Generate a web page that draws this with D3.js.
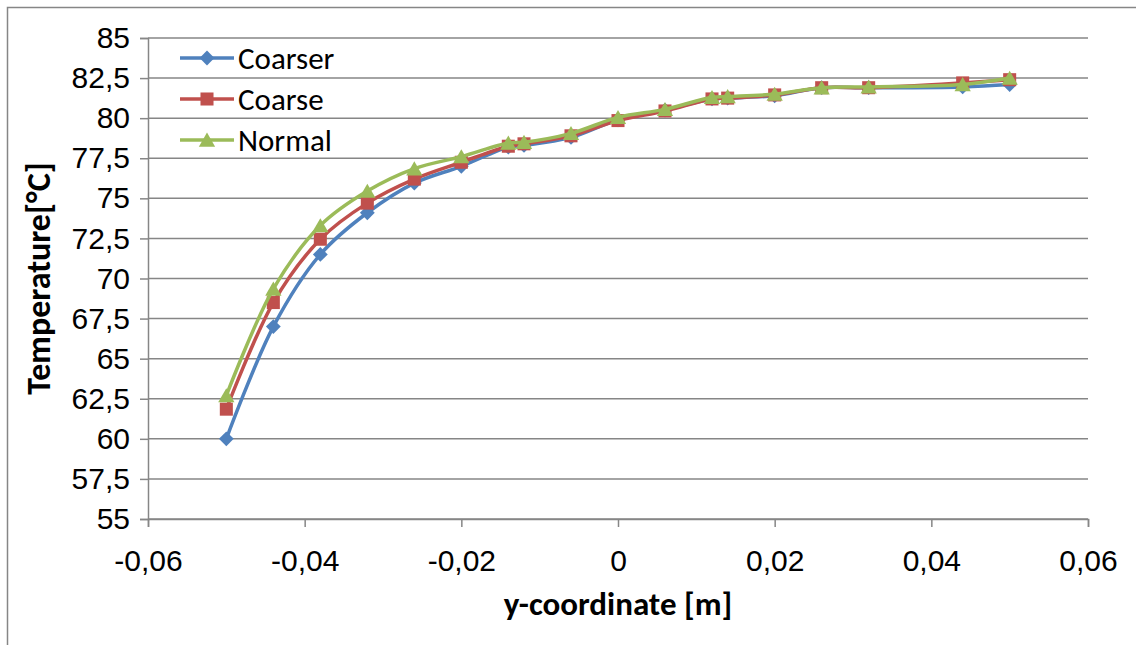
<!DOCTYPE html>
<html>
<head>
<meta charset="utf-8">
<script src="https://cdn.jsdelivr.net/npm/d3@7"></script>
<style>
  body { margin: 0; background: #fff; }
  svg { font-family: Carlito, Lato, "Open Sans", sans-serif; }
</style>
</head>
<body>
<svg width="1136" height="645"></svg>
<script>
var svg = d3.select("svg"),
    width = +svg.attr("width"),
    height = +svg.attr("height");

// y-coordinate [m]
var positions = [-0.05, -0.044, -0.038, -0.032, -0.026, -0.02, -0.014, -0.012, -0.006,
                 0, 0.006, 0.012, 0.014, 0.02, 0.026, 0.032, 0.044, 0.05];

var coarser = [60.0, 67.0, 71.5, 74.1, 75.95, 77.0, 78.2, 78.3, 78.8,
               79.9, 80.5, 81.2, 81.25, 81.4, 81.9, 81.9, 81.95, 82.1];
var coarse  = [61.85, 68.5, 72.45, 74.7, 76.2, 77.25, 78.25, 78.4, 78.9,
               79.85, 80.45, 81.2, 81.25, 81.45, 81.9, 81.9, 82.2, 82.4];
var normal  = [62.7, 69.35, 73.3, 75.45, 76.85, 77.6, 78.45, 78.5, 79.05,
               80.05, 80.55, 81.3, 81.35, 81.5, 81.9, 81.95, 82.1, 82.5];

var seriesNames = ["Coarser", "Coarse", "Normal"];
var xTicks = [-0.06, -0.04, -0.02, 0, 0.02, 0.04, 0.06];
var yTicks = d3.range(55, 85.01, 2.5);

var colors = ["#4F81BD", "#C0504D", "#9BBB59"];
var symbols = [d3.symbolSquare, d3.symbolSquare, d3.symbolTriangle];
var symbolSizes = [110, 170, 115];
var symbolRotate = [45, 0, 0];
var symbolShift = [0, 0, 2];

var series = [coarser, coarse, normal].map(function(vals, i) {
  return {
    name: seriesNames[i],
    values: vals.map(function(v, j) { return { x: positions[j], y: v }; })
  };
});

var margin = { left: 148, right: width - 1088, top: 38, bottom: height - 519 };

var x = d3.scaleLinear().domain([-0.06, 0.06]).range([margin.left, width - margin.right]);
var y = d3.scaleLinear().domain([55, 85]).range([height - margin.bottom, margin.top]);

var fmt = function(d) { return String(+d.toFixed(3)).replace(".", ","); };

// outer frame
svg.append("path")
    .attr("d", "M7.5," + height + "V7.5H" + width)
    .attr("fill", "none")
    .attr("stroke", "#868686")
    .attr("stroke-width", 1.5);

// gridlines
svg.append("g")
    .selectAll("line")
    .data(yTicks)
    .enter().append("line")
      .attr("x1", x(-0.06))
      .attr("x2", x(0.06))
      .attr("y1", function(d) { return y(d); })
      .attr("y2", function(d) { return y(d); })
      .attr("stroke", "#868686")
      .attr("stroke-width", 1.5);

// axes
var yAxis = svg.append("g")
    .attr("transform", "translate(" + x(-0.06) + ",0)")
    .call(d3.axisLeft(y).tickValues(yTicks).tickSize(8).tickPadding(10).tickFormat(fmt));

var xAxis = svg.append("g")
    .attr("transform", "translate(0," + y(55) + ")")
    .call(d3.axisBottom(x).tickValues(xTicks).tickSize(8).tickPadding(23).tickFormat(fmt));

[xAxis, yAxis].forEach(function(ax) {
  ax.select(".domain").attr("stroke", "#868686").attr("stroke-width", 1.5);
  ax.selectAll(".tick line").attr("stroke", "#868686").attr("stroke-width", 1.5);
  ax.selectAll("text").attr("fill", "#000").style("font-size", "30px").style("font-family", null);
});

// axis titles
svg.append("text")
    .attr("x", x(0))
    .attr("y", 615)
    .attr("text-anchor", "middle")
    .style("font-size", "33px")
    .style("font-weight", "bold")
    .text("y-coordinate [m]");

svg.append("text")
    .attr("transform", "translate(50," + y(70) + ") rotate(-90)")
    .attr("text-anchor", "middle")
    .style("font-size", "34px")
    .style("font-weight", "bold")
    .text("Temperature[°C]");

// lines
var line = d3.line()
    .x(function(d) { return x(d.x); })
    .y(function(d) { return y(d.y); })
    .curve(d3.curveCatmullRom.alpha(0.5));

var g = svg.selectAll(".series")
    .data(series)
    .enter().append("g")
      .attr("class", "series");

g.append("path")
    .attr("d", function(d) { return line(d.values); })
    .attr("fill", "none")
    .attr("stroke", function(d, i) { return colors[i]; })
    .attr("stroke-width", 3.5);

function markerTransform(i, px, py) {
  return "translate(" + px + "," + (py + symbolShift[i]) + ") rotate(" + symbolRotate[i] + ")";
}

g.each(function(s, i) {
  d3.select(this).selectAll(".pt")
    .data(s.values)
    .enter().append("path")
      .attr("class", "pt")
      .attr("transform", function(d) { return markerTransform(i, x(d.x), y(d.y)); })
      .attr("d", d3.symbol().type(symbols[i]).size(symbolSizes[i]))
      .attr("fill", colors[i]);
});

// legend
var legend = svg.append("g")
    .selectAll("g")
    .data(seriesNames)
    .enter().append("g")
      .attr("transform", function(d, i) { return "translate(180," + (58 + i * 41) + ")"; });

legend.append("line")
    .attr("x1", 0).attr("x2", 54)
    .attr("stroke", function(d, i) { return colors[i]; })
    .attr("stroke-width", 3.5);

legend.append("path")
    .attr("transform", function(d, i) { return markerTransform(i, 27, 0); })
    .attr("d", function(d, i) { return d3.symbol().type(symbols[i]).size(symbolSizes[i])(); })
    .attr("fill", function(d, i) { return colors[i]; });

legend.append("text")
    .attr("x", 58)
    .attr("dy", "0.35em")
    .style("font-size", "31px")
    .text(function(d) { return d; });
</script>
</body>
</html>
